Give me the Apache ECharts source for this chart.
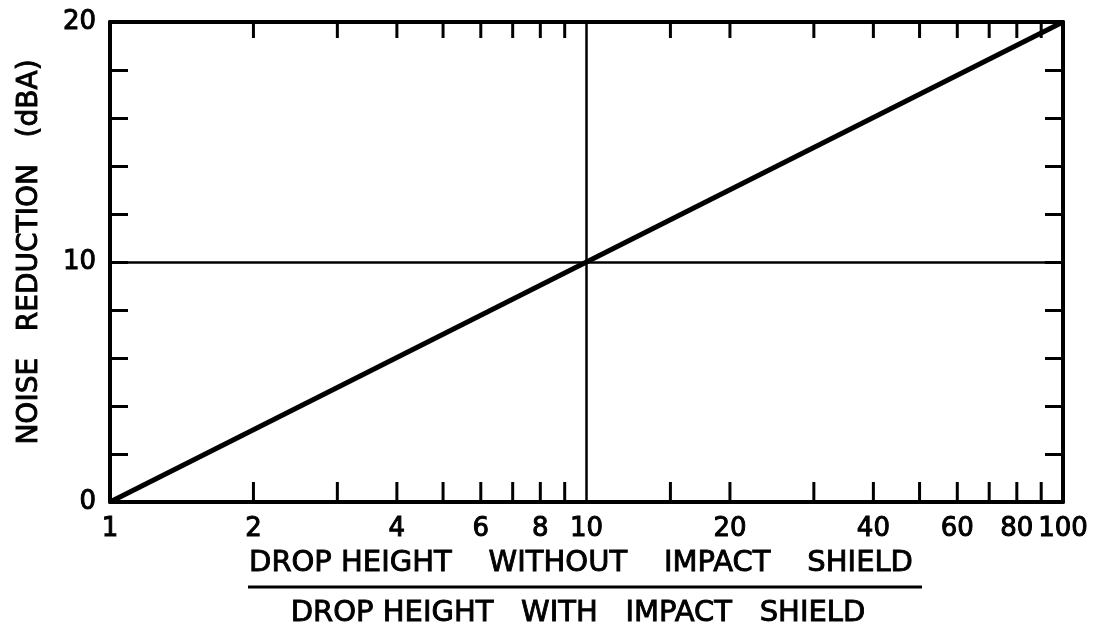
<!DOCTYPE html>
<html><head><meta charset="utf-8">
<script src="https://cdn.jsdelivr.net/npm/echarts@6/dist/echarts.min.js"></script>
<style>html,body{margin:0;padding:0;background:#fff}#c{width:1106px;height:629px}</style>
</head><body><div id="c"></div>
<script>
// ---- data ----
const lineX = [1, 100];
const lineY = [0, 20];
const xBottomTicks = [2, 3, 4, 5, 6, 7, 8, 9, 15, 20, 30, 40, 50, 60, 70, 80, 90];
const xTopTicks = [2, 3, 4, 5, 6, 7, 8, 9, 15, 20, 30, 40, 50, 60, 70, 80, 90];
const xTickLabels = [1, 2, 4, 6, 8, 10, 20, 40, 60, 80, 100];
const yTickLabels = [0, 10, 20];
const gridX = [10];
const gridY = [10];
const yTitle = 'NOISE   REDUCTION   (dBA)';
const xTitleTop = 'DROP HEIGHT    WITHOUT    IMPACT    SHIELD';
const xTitleBottom = 'DROP HEIGHT   WITH   IMPACT   SHIELD';

const FONT = 'DejaVu Sans';
const chart = echarts.init(document.getElementById('c'), null, {renderer: 'canvas'});

const yAxisCommon = {
  type: 'value', min: 0, max: 20, interval: 2,
  axisLine: {show: true, lineStyle: {color: '#000', width: 4}},
  axisTick: {show: true, inside: true, length: 18, lineStyle: {color: '#000', width: 3}},
  splitLine: {show: false}
};

const titleStyle = (text, size) => ({
  text: text, font: size + 'px "' + FONT + '"', fill: '#000',
  stroke: '#000', lineWidth: 0.9,
  textAlign: 'center', textVerticalAlign: 'middle'
});

const option = {
  animation: false,
  backgroundColor: '#fff',
  grid: {left: 110, right: 43, top: 22, bottom: 127, containLabel: false},
  xAxis: [
    {type: 'log', logBase: 10, min: 1, max: 100, position: 'bottom',
     axisLine: {show: true, onZero: false, lineStyle: {color: '#000', width: 4}},
     axisTick: {show: false}, axisLabel: {show: false}, splitLine: {show: false}},
    {type: 'log', logBase: 10, min: 1, max: 100, position: 'top',
     axisLine: {show: true, onZero: false, lineStyle: {color: '#000', width: 4}},
     axisTick: {show: false}, axisLabel: {show: false}, splitLine: {show: false}}
  ],
  yAxis: [
    Object.assign({}, yAxisCommon, {position: 'left',
      axisLabel: {show: true, margin: 14, color: '#000', fontFamily: FONT, fontSize: 26,
        textBorderColor: '#000', textBorderWidth: 1,
        formatter: v => yTickLabels.includes(v) ? String(v) : ''}}),
    Object.assign({}, yAxisCommon, {position: 'right', axisLabel: {show: false}})
  ],
  graphic: [
    {type: 'text', x: 30, y: 252, rotation: Math.PI / 2, style: titleStyle(yTitle, 28)},
    {type: 'text', x: 581, y: 563, style: titleStyle(xTitleTop, 29)},
    {type: 'line', shape: {x1: 248, y1: 587, x2: 922, y2: 587}, style: {stroke: '#000', lineWidth: 3}},
    {type: 'text', x: 578, y: 613, style: titleStyle(xTitleBottom, 29)}
  ],
  series: [
    {type: 'line', xAxisIndex: 0, yAxisIndex: 0, symbol: 'none',
     data: lineX.map((x, i) => [x, lineY[i]]),
     lineStyle: {color: '#000', width: 5},
     markLine: {silent: true, symbol: 'none', label: {show: false},
       lineStyle: {color: '#000', width: 2.5, type: 'solid'},
       data: gridX.map(v => ({xAxis: v})).concat(gridY.map(v => ({yAxis: v})))}
    },
    {type: 'custom', xAxisIndex: 0, yAxisIndex: 0, silent: true,
     data: xBottomTicks.map(v => [v, 0]),
     renderItem: (params, api) => {
       const p = api.coord([api.value(0), api.value(1)]);
       return {type: 'line', shape: {x1: p[0], y1: p[1], x2: p[0], y2: p[1] - 20},
               style: {stroke: '#000', lineWidth: 3}};
     }},
    {type: 'custom', xAxisIndex: 0, yAxisIndex: 0, silent: true,
     data: xTopTicks.map(v => [v, 20]),
     renderItem: (params, api) => {
       const p = api.coord([api.value(0), api.value(1)]);
       return {type: 'line', shape: {x1: p[0], y1: p[1], x2: p[0], y2: p[1] + 16},
               style: {stroke: '#000', lineWidth: 3}};
     }},
    {type: 'custom', xAxisIndex: 0, yAxisIndex: 0, silent: true,
     data: xTickLabels.map(v => [v, 0]),
     renderItem: (params, api) => {
       const p = api.coord([api.value(0), api.value(1)]);
       return {type: 'text', x: p[0], y: p[1] + 27,
               style: {text: String(api.value(0)), font: '26px "' + FONT + '"', fill: '#000',
                       stroke: '#000', lineWidth: 1,
                       textAlign: 'center', textVerticalAlign: 'middle'}};
     }}
  ]
};
chart.setOption(option);
</script></body></html>
